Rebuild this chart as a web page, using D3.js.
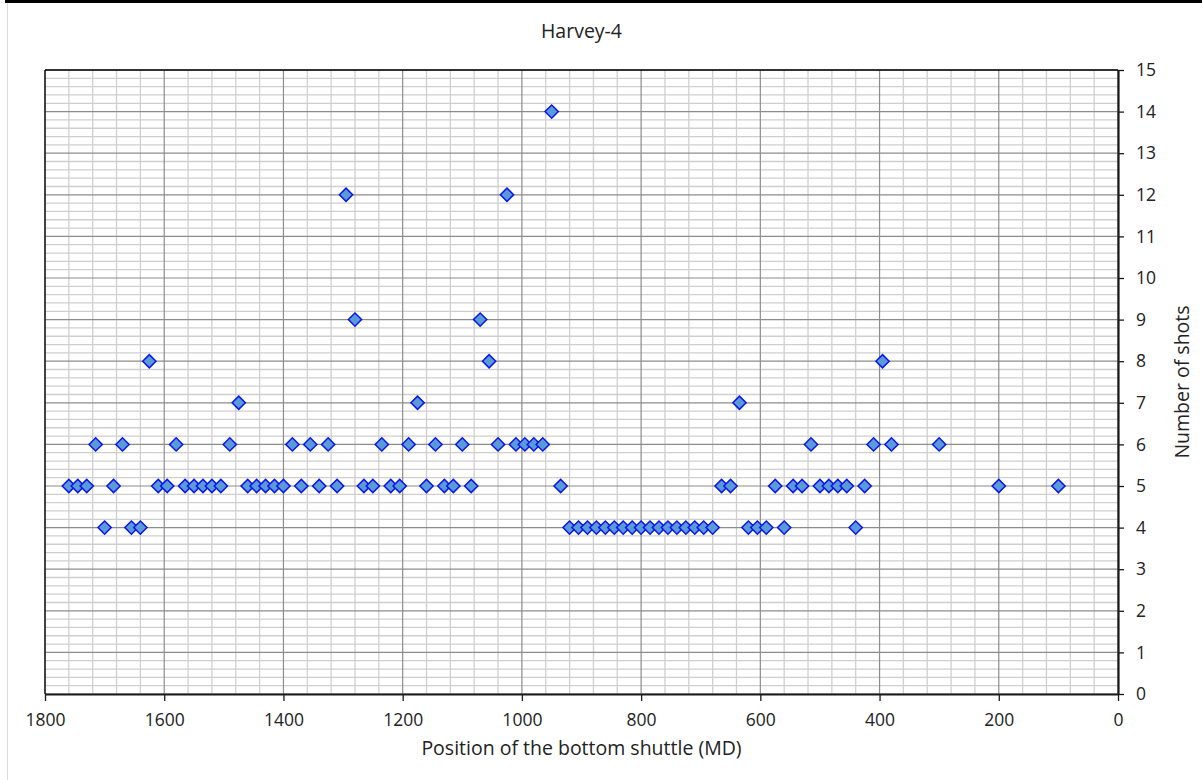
<!DOCTYPE html>
<html>
<head>
<meta charset="utf-8">
<script src="https://cdn.jsdelivr.net/npm/d3@7"></script>
<style>
  html, body { margin: 0; padding: 0; background: #fff; }
  svg { display: block; }
  text { font-family: "Open Sans", sans-serif; fill: #222; }
</style>
</head>
<body>
<svg id="chart" width="1202" height="780"></svg>
<script>
// ---- data ----
const positions = [
  1760, 1745, 1730, 1715, 1700, 1685, 1670, 1655, 1640, 1625,
  1610, 1595, 1580, 1565, 1550, 1535, 1520, 1505, 1490, 1475,
  1460, 1445, 1430, 1415, 1400, 1385, 1370, 1355, 1340, 1325,
  1310, 1295, 1280, 1265, 1250, 1235, 1220, 1205, 1190, 1175,
  1160, 1145, 1130, 1115, 1100, 1085, 1070, 1055, 1040, 1025,
  1010, 995, 980, 965, 950, 935, 920, 905, 890, 875,
  860, 845, 830, 815, 800, 785, 770, 755, 740, 725,
  710, 695, 680, 665, 650, 635, 620, 605, 590, 575,
  560, 545, 530, 515, 500, 485, 470, 455, 440, 425,
  410, 395, 380, 300, 200, 100
];
const shots = [
  5, 5, 5, 6, 4, 5, 6, 4, 4, 8,
  5, 5, 6, 5, 5, 5, 5, 5, 6, 7,
  5, 5, 5, 5, 5, 6, 5, 6, 5, 6,
  5, 12, 9, 5, 5, 6, 5, 5, 6, 7,
  5, 6, 5, 5, 6, 5, 9, 8, 6, 12,
  6, 6, 6, 6, 14, 5, 4, 4, 4, 4,
  4, 4, 4, 4, 4, 4, 4, 4, 4, 4,
  4, 4, 4, 5, 5, 7, 4, 4, 4, 5,
  4, 5, 5, 6, 5, 5, 5, 5, 4, 5,
  6, 8, 6, 6, 5, 5
];
const xTickLabels = [1800, 1600, 1400, 1200, 1000, 800, 600, 400, 200, 0];
const yTickLabels = [0, 1, 2, 3, 4, 5, 6, 7, 8, 9, 10, 11, 12, 13, 14, 15];
const title = "Harvey-4";
const xTitle = "Position of the bottom shuttle (MD)";
const yTitle = "Number of shots";

// ---- layout ----
const L = 45, R = 1118, T = 70, B = 694;
const svg = d3.select("#chart");
const x = d3.scaleLinear().domain([1800, 0]).range([L, R]);
const y = d3.scaleLinear().domain([0, 15]).range([B, T]);

// outer decorations
svg.append("rect").attr("x", 5).attr("y", 0).attr("width", 1197).attr("height", 3).attr("fill", "#000");
svg.append("line").attr("x1", 7.5).attr("x2", 7.5).attr("y1", 3).attr("y2", 780)
  .attr("stroke", "#d9d9d9").attr("stroke-width", 1);

const g = svg.append("g");

// minor grid
const xMinor = d3.range(0, 1801, 40).filter(v => v % 200 !== 0);
const yMinor = d3.range(0, 15.01, 0.2).map(v => +v.toFixed(1)).filter(v => Math.abs(v - Math.round(v)) > 1e-6);
g.selectAll(".hminor").data(yMinor).join("line")
  .attr("x1", L).attr("x2", R).attr("y1", d => y(d)).attr("y2", d => y(d))
  .attr("stroke", "#cfcfcf").attr("stroke-width", 1.3);
g.selectAll(".vminor").data(xMinor).join("line")
  .attr("y1", T).attr("y2", B).attr("x1", d => x(d)).attr("x2", d => x(d))
  .attr("stroke", "#cfcfcf").attr("stroke-width", 1.3);
// major grid
g.selectAll(".hmajor").data(yTickLabels).join("line")
  .attr("x1", L).attr("x2", R).attr("y1", d => y(d)).attr("y2", d => y(d))
  .attr("stroke", "#8c8c8c").attr("stroke-width", 1.2);
g.selectAll(".vmajor").data(xTickLabels).join("line")
  .attr("y1", T).attr("y2", B).attr("x1", d => x(d)).attr("x2", d => x(d))
  .attr("stroke", "#8c8c8c").attr("stroke-width", 1.2);

// plot border (left, top)
g.append("line").attr("x1", L).attr("x2", L).attr("y1", T).attr("y2", B).attr("stroke", "#000").attr("stroke-width", 1.3);
g.append("line").attr("x1", L).attr("x2", R).attr("y1", T).attr("y2", T).attr("stroke", "#000").attr("stroke-width", 1.3);

// axes
const xAxis = d3.axisBottom(x).tickValues(xTickLabels).tickSize(7).tickPadding(13).tickFormat(d3.format("d"));
const yAxis = d3.axisRight(y).tickValues(yTickLabels).tickSize(6).tickPadding(12).tickFormat(d3.format("d"));
const gx = svg.append("g").attr("transform", `translate(0,${B})`).call(xAxis);
const gy = svg.append("g").attr("transform", `translate(${R},0)`).call(yAxis);
[gx, gy].forEach(a => {
  a.select(".domain").attr("stroke", "#1a1a1a").attr("stroke-width", 2.2);
  a.selectAll(".tick line").attr("stroke", "#1a1a1a").attr("stroke-width", 1.3);
  a.selectAll(".tick text").attr("font-family", "Open Sans").attr("font-size", 17.5).attr("fill", "#222");
});
gx.select(".domain").attr("d", `M${L},0.5H${R}`);
gy.select(".domain").attr("d", `M0.5,${T}V${B}`);

// points
const sym = d3.symbol().type(d3.symbolSquare).size(88);
svg.append("g").selectAll("path").data(positions.map((p, i) => ({p, s: shots[i]}))).join("path")
  .attr("d", sym)
  .attr("transform", d => `translate(${x(d.p)},${y(d.s)}) rotate(45)`)
  .attr("fill", "#5b9bd5").attr("stroke", "#0a14f5").attr("stroke-width", 1.5);

// titles
svg.append("text").attr("x", (L + R) / 2).attr("y", 38).attr("text-anchor", "middle")
  .attr("font-size", 19.5).text(title);
svg.append("text").attr("x", (L + R) / 2).attr("y", 755).attr("text-anchor", "middle")
  .attr("font-size", 19.5).text(xTitle);
svg.append("text").attr("transform", `translate(1189,${(T + B) / 2}) rotate(-90)`)
  .attr("text-anchor", "middle").attr("font-size", 19.5).text(yTitle);
</script>
</body>
</html>
